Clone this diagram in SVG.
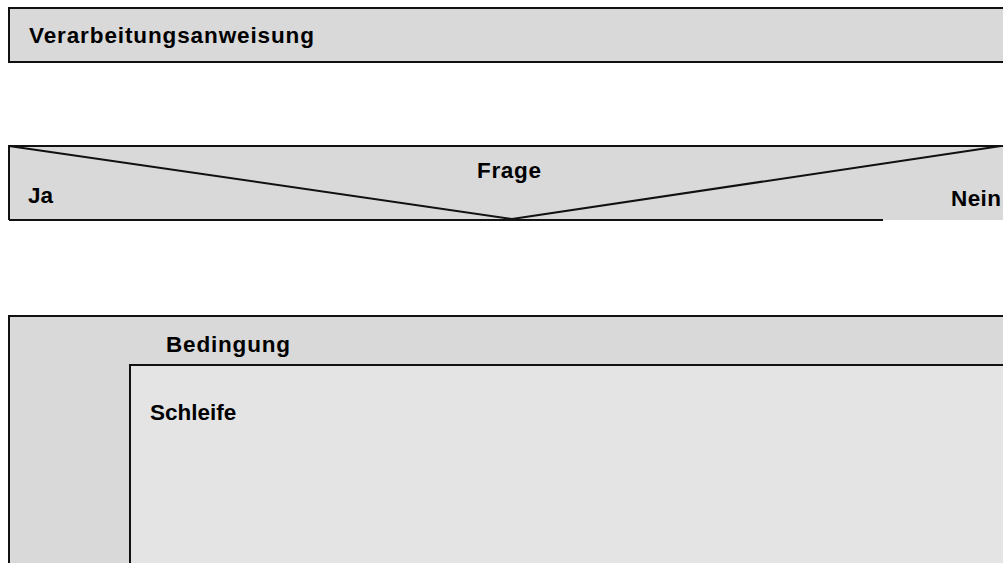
<svg xmlns="http://www.w3.org/2000/svg" width="1003" height="563" viewBox="0 0 1003 563">
<style>
.box{fill:#d9d9d9;stroke:#111;stroke-width:2}
.inner{fill:#e4e4e4;stroke:#111;stroke-width:2}
.ln{fill:none;stroke:#111;stroke-width:2}
.t{font-family:"Liberation Sans",Arial,sans-serif;font-weight:bold;font-size:22.5px;fill:#000}
</style>
<rect width="1003" height="563" fill="#fff"/>
<g id="verarbeitung">
<rect class="box" x="9" y="8" width="1010" height="54"/>
<text class="t" x="29" y="43" textLength="285" lengthAdjust="spacing">Verarbeitungsanweisung</text>
</g>
<g id="frage">
<rect x="9" y="146" width="1010" height="74" fill="#d9d9d9"/>
<path class="ln" d="M9,220 V146 H1010 M9,220 H883"/>
<path class="ln" d="M9,146 L512,219 L1001,146"/>
<text class="t" x="477" y="178" textLength="64" lengthAdjust="spacing">Frage</text>
<text class="t" x="28" y="203">Ja</text>
<text class="t" x="951" y="206" textLength="50" lengthAdjust="spacing">Nein</text>
</g>
<g id="schleife">
<rect class="box" x="9" y="316" width="1010" height="260"/>
<rect class="inner" x="130" y="365" width="890" height="210"/>
<text class="t" x="166" y="352" textLength="124" lengthAdjust="spacing">Bedingung</text>
<text class="t" x="150" y="420">Schleife</text>
</g>
<g id="connectors"/>
</svg>
